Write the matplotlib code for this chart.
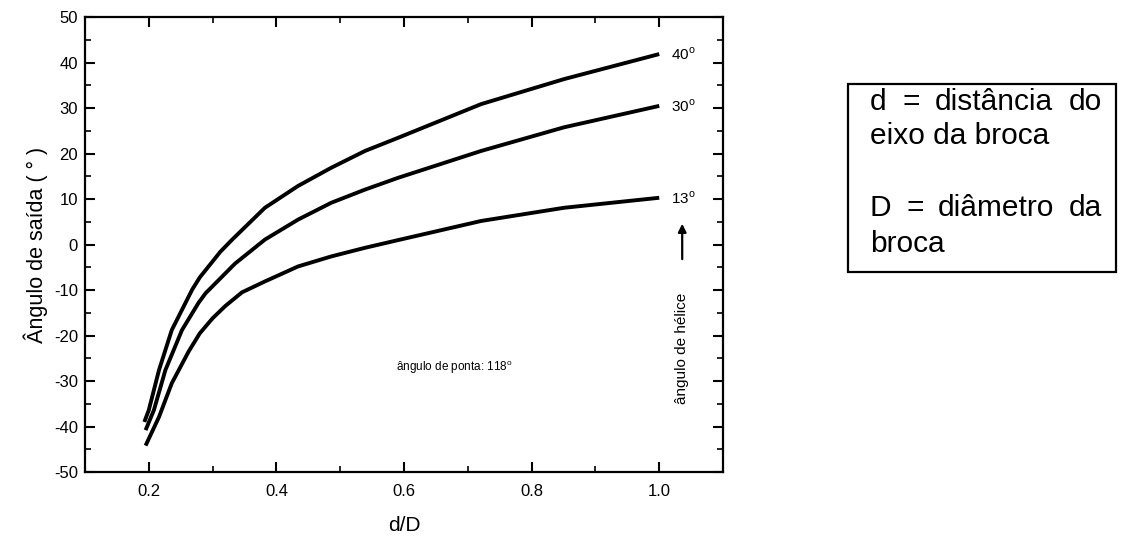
import matplotlib
matplotlib.use('Agg')
import matplotlib.pyplot as plt
from matplotlib.patches import Rectangle
from matplotlib.ticker import MultipleLocator

plt.rcParams['font.family'] = ['Liberation Sans', 'DejaVu Sans']
plt.rcParams['mathtext.fontset'] = 'custom'
plt.rcParams['mathtext.rm'] = 'Liberation Sans'
plt.rcParams['axes.unicode_minus'] = False

# curves: d/D vs rake angle, one per helix angle
d_D_40 = [0.193, 0.200, 0.216, 0.236, 0.268, 0.280, 0.312, 0.330, 0.382, 0.434,
          0.486, 0.539, 0.591, 0.721, 0.851, 1.0]
ang_40 = [-39.0, -36.4, -27.6, -18.8, -9.9, -7.2, -1.6, 1.0, 8.1, 12.9,
          16.9, 20.6, 23.5, 30.9, 36.4, 41.9]

d_D_30 = [0.195, 0.208, 0.226, 0.252, 0.278, 0.289, 0.335, 0.382, 0.434, 0.486,
          0.539, 0.591, 0.721, 0.851, 1.0]
ang_30 = [-40.8, -36.4, -27.6, -18.8, -12.8, -10.7, -4.2, 1.1, 5.5, 9.2,
          12.1, 14.7, 20.6, 25.8, 30.5]

d_D_13 = [0.195, 0.216, 0.236, 0.2625, 0.280, 0.300, 0.320, 0.346, 0.382, 0.434,
          0.486, 0.539, 0.591, 0.721, 0.851, 1.0]
ang_13 = [-44.2, -37.9, -30.5, -23.5, -19.5, -16.2, -13.5, -10.5, -8.1, -4.8,
          -2.6, -0.7, 1.0, 5.2, 8.1, 10.3]

curve_labels = ['40$^{\\mathrm{o}}$', '30$^{\\mathrm{o}}$', '13$^{\\mathrm{o}}$']
x_ticks = [0.2, 0.4, 0.6, 0.8, 1.0]
x_ticklabels = ['0.2', '0.4', '0.6', '0.8', '1.0']

fig = plt.figure(figsize=(11.21, 5.38), dpi=100)
ax = fig.add_axes([0.0758, 0.1227, 0.5692, 0.8453])

for xs, ys, lab in zip([d_D_40, d_D_30, d_D_13], [ang_40, ang_30, ang_13], curve_labels):
    ax.plot(xs, ys, color='black', lw=2.8, solid_capstyle='butt', solid_joinstyle='round')
    ax.text(xs[-1] + 0.018, ys[-1], lab, fontsize=11, va='center', ha='left')

ax.set_xlim(0.1, 1.1)
ax.set_ylim(-50, 50)
ax.xaxis.set_minor_locator(MultipleLocator(0.1))
ax.yaxis.set_major_locator(MultipleLocator(10))
ax.yaxis.set_minor_locator(MultipleLocator(5))
ax.set_xticks(x_ticks)
ax.set_xticklabels(x_ticklabels)
ax.tick_params(which='both', direction='in', top=True, right=True, labelsize=12)
ax.tick_params(which='major', length=7, width=1.5)
ax.tick_params(which='minor', length=4, width=1.2)
ax.tick_params(axis='x', pad=9)
ax.tick_params(axis='y', pad=5)
for sp in ax.spines.values():
    sp.set_linewidth(1.6)

ax.set_xlabel('d/D', fontsize=15, labelpad=12)
ax.set_ylabel('Ângulo de saída ( ° )', fontsize=15.5, labelpad=4)

ax.text(0.5875, -27, 'ângulo de ponta: 118$^{\\mathrm{o}}$', fontsize=8.5, va='center', ha='left')
ax.text(1.036, -22.8, 'ângulo de hélice', fontsize=11, rotation=90, va='center', ha='center')
ax.annotate('', xy=(1.036, 5.2), xytext=(1.036, -3.8),
            arrowprops=dict(arrowstyle='-|>', color='black', lw=1.6, mutation_scale=12))

# definition box on the right
fig.patches.append(Rectangle((848 / 1121, 1 - 272 / 538), (1116 - 848) / 1121, (272 - 84) / 538,
                             transform=fig.transFigure, fill=False, edgecolor='black', lw=1.6))
box_lines = ['d =  distância do', 'eixo da broca', 'D = diâmetro da', 'broca']
box_base = [110, 144, 216, 252]
box_justify = [True, False, True, False]
x_left, x_right = 870, 1102

fig.canvas.draw()
renderer = fig.canvas.get_renderer()
for txt, yb, just in zip(box_lines, box_base, box_justify):
    y = 1 - yb / 538
    if not just:
        fig.text(x_left / 1121, y, txt, fontsize=21.5, va='baseline', ha='left')
        continue
    # spread the words so the line fills the box width
    words = txt.split()
    objs = [fig.text(0, y, w, fontsize=21.5, va='baseline', ha='left') for w in words]
    widths = [o.get_window_extent(renderer).width for o in objs]
    gap = (x_right - x_left - sum(widths)) / (len(words) - 1)
    xpos = x_left
    for o, w in zip(objs, widths):
        o.set_x(xpos / 1121)
        xpos += w + gap

fig.savefig('out.png', dpi=100)
